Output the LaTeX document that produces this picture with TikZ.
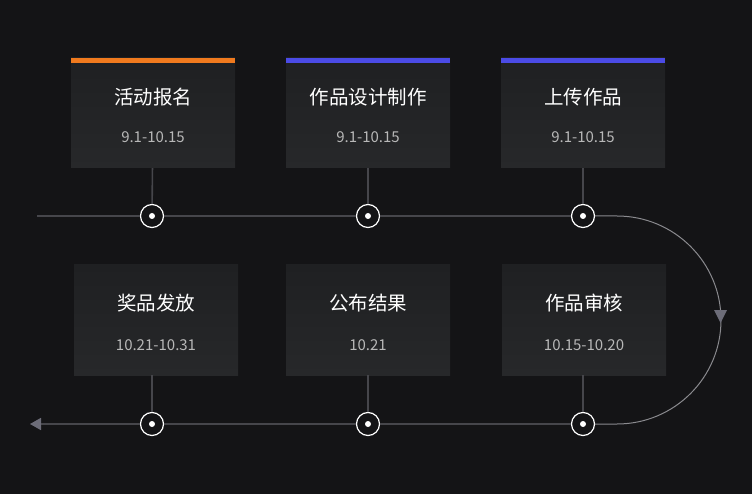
\documentclass[tikz,border=0pt]{standalone}
\usepackage{fontspec}
\newfontfamily\cjk{Noto Sans CJK SC}
\usetikzlibrary{arrows.meta, positioning}
\definecolor{bgDark}{HTML}{141416}
\definecolor{boxTop}{HTML}{1F2022}
\definecolor{boxBottom}{HTML}{27282A}
\definecolor{lineGray}{HTML}{46464B}
\definecolor{arcGray}{HTML}{8A8A8E}
\definecolor{tipGray}{HTML}{6C6C78}
\definecolor{barOrange}{HTML}{F07A1E}
\definecolor{barBlue}{HTML}{4B4BE6}
\definecolor{dateGray}{HTML}{B8B8B8}

\begin{document}
\begin{tikzpicture}[x=1pt, y=-1pt,
    card/.style={top color=boxTop, bottom color=boxBottom, minimum width=164pt, minimum height=110pt, inner sep=0pt},
    title/.style={text=white, font=\cjk\fontsize{19.5}{22}\selectfont},
    date/.style={text=dateGray, font=\cjk\fontsize{15}{17}\selectfont},
    stop/.style={circle, draw=white, fill=bgDark, line width=1.2pt, minimum size=23pt, inner sep=0pt},
    link/.style={lineGray, line width=1.6pt}]
    \fill[bgDark] (0,0) rectangle (752,494);

    % first row
    \node[card] (c1) at (153,113) {};
    \node[card] (c2) at (368,113) {};
    \node[card] (c3) at (583,113) {};
    \fill[barOrange] (c1.north west) rectangle ++(164,5.5);
    \fill[barBlue] (c2.north west) rectangle ++(164,5.5);
    \fill[barBlue] (c3.north west) rectangle ++(164,5.5);
    \node[title] (t1) at (153,97) {活动报名};
    \node[title] (t2) at (368,97) {作品设计制作};
    \node[title] (t3) at (583,97) {上传作品};
    \node[date] (d1) at (153,137) {9.1-10.15};
    \node[date] (d2) at (368,137) {9.1-10.15};
    \node[date] (d3) at (583,137) {9.1-10.15};

    % second row
    \node[card] (c6) at (156,320) {};
    \node[card] (c5) at (368,320) {};
    \node[card] (c4) at (584,320) {};
    \node[title] (t6) at (156,303) {奖品发放};
    \node[title] (t5) at (368,303) {公布结果};
    \node[title] (t4) at (584,303) {作品审核};
    \node[date] (d6) at (156,345) {10.21-10.31};
    \node[date] (d5) at (368,345) {10.21};
    \node[date] (d4) at (584,345) {10.15-10.20};

    % timeline
    \node[stop] (s1) at (152,216) {};
    \node[stop] (s2) at (368,216) {};
    \node[stop] (s3) at (583,216) {};
    \node[stop] (s4) at (583,424) {};
    \node[stop] (s5) at (368,424) {};
    \node[stop] (s6) at (152,424) {};
    \coordinate (start) at (37,216);
    \coordinate (turn) at (617,216);
    \coordinate (finish) at (30,424);

    \draw[link] (start) -- (s1) -- (s2) -- (s3);
    \draw[arcGray, line width=1pt] (s3) -- (turn) arc[start angle=-90, end angle=90, radius=104] -- (s4);
    \draw[link, -{Triangle[length=11pt, width=12pt, color=tipGray]}] (s4) -- (s5) -- (s6) -- (finish);
    \fill[tipGray] (714,310) -- (727,310) -- (720.5,323) -- cycle;

    \draw[link] (c1) -- (s1);
    \draw[link] (c2) -- (s2);
    \draw[link] (c3) -- (s3);
    \draw[link] (c4.south -| s4) -- (s4);
    \draw[link] (c5) -- (s5);
    \draw[link] (c6.south -| s6) -- (s6);

    \foreach \s in {s1,s2,s3,s4,s5,s6}
        \fill[white] (\s) circle (3pt);
\end{tikzpicture}
\end{document}
